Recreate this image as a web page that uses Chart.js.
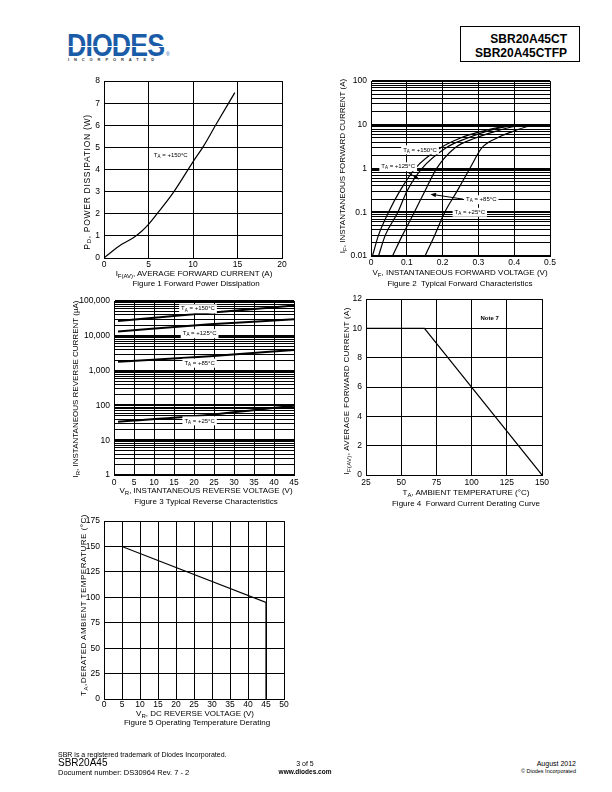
<!DOCTYPE html>
<html>
<head>
<meta charset="utf-8">
<title>SBR20A45CT - typical characteristics</title>
<script src="https://cdn.jsdelivr.net/npm/chart.js@4.4.1/dist/chart.umd.min.js"></script>
<style>
  html, body { margin: 0; padding: 0; background: #fff; }
  body { position: relative; width: 612px; height: 792px; overflow: hidden;
         font-family: "Liberation Sans", Arial, Helvetica, sans-serif; color: #000; }
  canvas { position: absolute; }
  .lbl { position: absolute; white-space: nowrap; font-size: 8px; line-height: 1;
         transform: translate(-50%, -50%); }
  .lbl.rot { transform: translate(-50%, -50%) rotate(-90deg); }
  .lbl sub { font-size: 6px; vertical-align: -1.5px; line-height: 0; }
  #logo { position: absolute; left: 67px; top: 30px; font-size: 31px; line-height: 31px;
          font-weight: 900; color: #1b5ca8; letter-spacing: -1px;
          transform: scaleX(0.86); transform-origin: left top; }
  #logoStripe { position: absolute; left: 66px; top: 46px; width: 102px; height: 1px; background: #fff; }
  #logoReg { position: absolute; left: 166px; top: 51px; font-size: 5px; color: #1b5ca8; }
  #logoSub { position: absolute; left: 68px; top: 57px; font-size: 4px; font-weight: bold;
             letter-spacing: 4.9px; color: #333; }
  #partBox { position: absolute; left: 460px; top: 26px; width: 120px; height: 36px;
             border: 1px solid #000; box-sizing: border-box; }
  .part { position: absolute; right: 12px; font-size: 12px; font-weight: bold; line-height: 12px; }
  .foot { position: absolute; white-space: nowrap; line-height: 1; }
</style>
</head>
<body>

<div id="logo">DIODES</div>
<div id="logoStripe"></div>
<div id="logoReg">®</div>
<div id="logoSub">INCORPORATED</div>
<div id="partBox">
  <div class="part" style="top:6px">SBR20A45CT</div>
  <div class="part" style="top:20px">SBR20A45CTFP</div>
</div>

<canvas id="fig1"></canvas>
<canvas id="fig2"></canvas>
<canvas id="fig3"></canvas>
<canvas id="fig4"></canvas>
<canvas id="fig5"></canvas>

<!-- figure 1 texts -->
<div class="lbl rot" style="left:87px;top:182px;font-size:8.5px;letter-spacing:0.7px">P<sub>D</sub>, POWER DISSIPATION (W)</div>
<div class="lbl" style="left:194px;top:273.5px">I<sub>F(AV)</sub>, AVERAGE FORWARD CURRENT (A)</div>
<div class="lbl" style="left:196px;top:284px">Figure 1 Forward Power Dissipation</div>

<!-- figure 2 texts -->
<div class="lbl rot" style="left:343px;top:166px">I<sub>F</sub>, INSTANTANEOUS FORWARD CURRENT (A)</div>
<div class="lbl" style="left:460px;top:273px">V<sub>F</sub>, INSTANTANEOUS FORWARD VOLTAGE (V)</div>
<div class="lbl" style="left:460px;top:283.5px">Figure 2&nbsp; Typical Forward Characteristics</div>

<!-- figure 3 texts -->
<div class="lbl rot" style="left:76px;top:389px">I<sub>R</sub>, INSTANTANEOUS REVERSE CURRENT (µA)</div>
<div class="lbl" style="left:206px;top:491px">V<sub>R</sub>, INSTANTANEOUS REVERSE VOLTAGE (V)</div>
<div class="lbl" style="left:206px;top:502px">Figure 3 Typical Reverse Characteristics</div>

<!-- figure 4 texts -->
<div class="lbl rot" style="left:346.5px;top:391px;letter-spacing:0.3px">I<sub>F(AV)</sub>, AVERAGE FORWARD CURRENT (A)</div>
<div class="lbl" style="left:466px;top:493px">T<sub>A</sub>, AMBIENT TEMPERATURE (°C)</div>
<div class="lbl" style="left:466px;top:503.5px">Figure 4&nbsp; Forward Current Derating Curve</div>

<!-- figure 5 texts -->
<div class="lbl rot" style="left:83.5px;top:605px;letter-spacing:0.5px">T<sub>A</sub>,DERATED AMBIENT TEMPERATURE (°C)</div>
<div class="lbl" style="left:195px;top:713.5px">V<sub>R</sub>, DC REVERSE VOLTAGE (V)</div>
<div class="lbl" style="left:197px;top:723px">Figure 5 Operating Temperature Derating</div>

<!-- footer -->
<div class="foot" style="left:58px;top:751px;font-size:7px">SBR is a registered trademark of Diodes Incorporated.</div>
<div class="foot" style="left:58px;top:758px;font-size:10px">SBR20A45</div>
<div class="foot" style="left:58px;top:768.5px;font-size:7.5px">Document number: DS30964 Rev. 7 - 2</div>
<div class="foot" style="left:305px;top:759.5px;font-size:7px;transform:translateX(-50%)">3 of 5</div>
<div class="foot" style="left:305px;top:768.5px;font-size:6.5px;font-weight:bold;transform:translateX(-50%)">www.diodes.com</div>
<div class="foot" style="right:36px;top:759.5px;font-size:7px">August 2012</div>
<div class="foot" style="right:36px;top:769px;font-size:5.5px">© Diodes Incorporated</div>

<script>
// Figure 1 - forward power dissipation, TA = +150°C
const fig1Current = [0, 1, 2, 3.3, 4.2, 5, 6.1, 7.8, 10, 11.2, 12.6, 14.7];
const fig1Power   = [0, 0.33, 0.62, 0.92, 1.2, 1.52, 2.07, 2.97, 4.35, 5.07, 6.05, 7.48];
const fig1XTicks  = [0, 5, 10, 15, 20];
const fig1YTicks  = [0, 1, 2, 3, 4, 5, 6, 7, 8];

// Figure 2 - typical forward characteristics (current levels, voltage per curve)
const fig2Current = [0.01, 0.03, 0.1, 0.3, 1, 3, 5, 7, 10];
const fig2V150    = [0.004, 0.021, 0.049, 0.08, 0.123, 0.195, 0.25, 0.305, 0.39];
const fig2V125    = [0.021, 0.04, 0.075, 0.10, 0.142, 0.21, 0.27, 0.32, 0.40];
const fig2V85     = [0.06, 0.088, 0.121, 0.15, 0.183, 0.235, 0.292, 0.345, 0.417];
const fig2V25     = [0.151, 0.178, 0.206, 0.24, 0.276, 0.31, 0.352, 0.395, 0.45];
const fig2XTicks  = [0, 0.1, 0.2, 0.3, 0.4, 0.5];
const fig2YLabels = ['0.01', '0.1', '1', '10', '100'];

// Figure 3 - typical reverse characteristics (µA)
const fig3Voltage = [1, 24, 45];
const fig3I150    = [26800, 46000, 75000];
const fig3I125    = [13300, 21500, 30000];
const fig3I85     = [1800, 2600, 3950];
const fig3I25     = [34, 54, 98];
const fig3XTicks  = [0, 5, 10, 15, 20, 25, 30, 35, 40, 45];
const fig3YLabels = ['1', '10', '100', '1,000', '10,000', '100,000'];

// Figure 4 - forward current derating curve
const fig4Temp    = [25, 66.5, 150];
const fig4Current = [10, 10, 0];
const fig4XTicks  = [25, 50, 75, 100, 125, 150];
const fig4YTicks  = [0, 2, 4, 6, 8, 10, 12];

// Figure 5 - operating temperature derating
const fig5Voltage = [0, 5, 45, 45];
const fig5Temp    = [150, 150, 95, 0];
const fig5XTicks  = [0, 5, 10, 15, 20, 25, 30, 35, 40, 45, 50];
const fig5YTicks  = [0, 25, 50, 75, 100, 125, 150, 175];

const FONT = '"Liberation Sans", Arial, Helvetica, sans-serif';
const AXIS_W = 44, AXIS_H = 14, PAD_T = 8, PAD_R = 14;

// draws the "TA = ..." tags, the Note 7 text and the little arrows
const tagPlugin = {
    id: 'tags',
    afterDatasetsDraw(chart, args, opts) {
        const ctx = chart.ctx, xs = chart.scales.x, ys = chart.scales.y;
        ctx.save();
        ctx.fillStyle = '#000';
        ctx.strokeStyle = '#000';
        (opts.arrows || []).forEach(a => {
            const x1 = xs.getPixelForValue(a.from[0]), y1 = ys.getPixelForValue(a.from[1]);
            const x2 = xs.getPixelForValue(a.to[0]), y2 = ys.getPixelForValue(a.to[1]);
            const ang = Math.atan2(y2 - y1, x2 - x1);
            ctx.lineWidth = 1;
            ctx.beginPath();
            ctx.moveTo(x1, y1);
            ctx.lineTo(x2 - 4 * Math.cos(ang), y2 - 4 * Math.sin(ang));
            ctx.stroke();
            ctx.beginPath();
            ctx.moveTo(x2, y2);
            ctx.lineTo(x2 - 6 * Math.cos(ang - 0.4), y2 - 6 * Math.sin(ang - 0.4));
            ctx.lineTo(x2 - 6 * Math.cos(ang + 0.4), y2 - 6 * Math.sin(ang + 0.4));
            ctx.closePath();
            ctx.fill();
        });
        (opts.items || []).forEach(t => {
            const cx = xs.getPixelForValue(t.x), cy = ys.getPixelForValue(t.y);
            const parts = t.note
                ? [[t.note, 6, 0, true]]
                : [['T', 6, 0], ['A', 4.5, 1.5], [' = ' + t.temp, 6, 0]];
            let w = 0;
            parts.forEach(p => {
                ctx.font = (p[3] ? 'bold ' : '') + p[1] + 'px ' + FONT;
                p.w = ctx.measureText(p[0]).width;
                w += p.w;
            });
            let x = cx - w / 2;
            if (t.bg) {
                ctx.fillStyle = '#fff';
                ctx.fillRect(x - 2, cy - 4.5, w + 4, 9);
                ctx.fillStyle = '#000';
            }
            ctx.textBaseline = 'middle';
            parts.forEach(p => {
                ctx.font = (p[3] ? 'bold ' : '') + p[1] + 'px ' + FONT;
                ctx.fillText(p[0], x, cy + p[2]);
                x += p.w;
            });
        });
        ctx.restore();
    }
};

function fitX(s) { s.height = AXIS_H; }
function fitY(s) { s.width = AXIS_W; }

function isDecade(v) {
    const l = Math.log10(v);
    return Math.abs(l - Math.round(l)) < 1e-9;
}

function linAxis(min, max, ticks, fit, pad) {
    return {
        type: 'linear', min: min, max: max,
        afterBuildTicks: s => { s.ticks = ticks.map(v => ({ value: v })); },
        afterFit: fit,
        grid: { color: '#000', lineWidth: 1, drawTicks: false },
        border: { color: '#000', width: 1 },
        ticks: {
            color: '#000', padding: pad, autoSkip: false, maxRotation: 0,
            font: { family: FONT, size: 8.5 },
            callback: v => String(v)
        }
    };
}

function logAxis(min, max, labels, fit) {
    const all = [];
    for (let e = Math.round(Math.log10(min)); e < Math.round(Math.log10(max)); e++) {
        for (let d = 1; d < 10; d++) all.push(+(d * Math.pow(10, e)).toPrecision(3));
    }
    all.push(max);
    return {
        type: 'logarithmic', min: min, max: max,
        afterBuildTicks: s => { s.ticks = all.map(v => ({ value: v })); },
        afterFit: fit,
        grid: {
            color: '#000', drawTicks: false,
            lineWidth: c => (c.tick && isDecade(c.tick.value)) ? 2 : 1
        },
        border: { color: '#000', width: 1 },
        ticks: {
            color: '#000', padding: 4, autoSkip: false,
            font: { family: FONT, size: 8.5 },
            callback: v => isDecade(v) ? labels[Math.round(Math.log10(v / min))] : ''
        }
    };
}

function curve(xs, ys, width, smooth) {
    return {
        data: xs.map((x, i) => ({ x: x, y: ys[i] })),
        borderColor: '#000',
        borderWidth: width,
        pointRadius: 0,
        fill: false,
        tension: 0,
        cubicInterpolationMode: smooth ? 'monotone' : 'default'
    };
}

function makeChart(id, box, datasets, xScale, yScale, tags) {
    const cv = document.getElementById(id);
    const w = AXIS_W + box.r - box.l + PAD_R;
    const h = PAD_T + box.b - box.t + AXIS_H;
    cv.width = w; cv.height = h;
    cv.style.width = w + 'px'; cv.style.height = h + 'px';
    cv.style.left = (box.l - AXIS_W) + 'px';
    cv.style.top = (box.t - PAD_T) + 'px';
    return new Chart(cv, {
        type: 'line',
        data: { datasets: datasets },
        options: {
            responsive: false,
            animation: false,
            devicePixelRatio: 1,
            layout: { padding: { top: PAD_T, right: PAD_R, left: 0, bottom: 0 } },
            plugins: {
                legend: { display: false },
                tooltip: { enabled: false },
                tags: tags || {}
            },
            scales: { x: xScale, y: yScale }
        },
        plugins: [tagPlugin]
    });
}

// Figure 1
makeChart('fig1', { l: 104, t: 80, r: 282, b: 258 },
    [curve(fig1Current, fig1Power, 1.2, true)],
    linAxis(0, 20, fig1XTicks, fitX, 1.5),
    linAxis(0, 8, fig1YTicks, fitY, 4),
    { items: [{ x: 7.5, y: 4.63, temp: '+150°C' }] });

// Figure 2
makeChart('fig2', { l: 371, t: 80, r: 550, b: 256 },
    [
        curve(fig2V150, fig2Current, 1.2, true),
        curve(fig2V125, fig2Current, 1.2, true),
        curve(fig2V85, fig2Current, 1.2, true),
        curve(fig2V25, fig2Current, 1.2, true)
    ],
    linAxis(0, 0.5, fig2XTicks, fitX, 2),
    logAxis(0.01, 100, fig2YLabels, fitY),
    {
        items: [
            { x: 0.137, y: 2.67, temp: '+150°C', bg: true },
            { x: 0.076, y: 1.1, temp: '+125°C', bg: true },
            { x: 0.308, y: 0.194, temp: '+85°C', bg: true },
            { x: 0.276, y: 0.1, temp: '+25°C', bg: true }
        ],
        arrows: [
            { from: [0.104, 0.81], to: [0.135, 0.56] },
            { from: [0.257, 0.2], to: [0.166, 0.26] }
        ]
    });

// Figure 3
makeChart('fig3', { l: 114, t: 300, r: 294, b: 475 },
    [
        curve(fig3Voltage, fig3I150, 2, true),
        curve(fig3Voltage, fig3I125, 2, true),
        curve(fig3Voltage, fig3I85, 2, true),
        curve(fig3Voltage, fig3I25, 2, true)
    ],
    linAxis(0, 45, fig3XTicks, fitX, 2.5),
    logAxis(1, 100000, fig3YLabels, fitY),
    {
        items: [
            { x: 21, y: 60000, temp: '+150°C', bg: true },
            { x: 21.4, y: 11600, temp: '+125°C', bg: true },
            { x: 21.4, y: 1640, temp: '+85°C', bg: true },
            { x: 21.4, y: 36, temp: '+25°C', bg: true }
        ]
    });

// Figure 4
makeChart('fig4', { l: 366, t: 298, r: 542, b: 475 },
    [curve(fig4Temp, fig4Current, 1.2, false)],
    linAxis(25, 150, fig4XTicks, fitX, 3),
    linAxis(0, 12, fig4YTicks, fitY, 4),
    { items: [{ x: 112.8, y: 10.7, note: 'Note 7' }] });

// Figure 5
makeChart('fig5', { l: 104, t: 520, r: 284, b: 699 },
    [curve(fig5Voltage, fig5Temp, 1.2, false)],
    linAxis(0, 50, fig5XTicks, fitX, 1),
    linAxis(0, 175, fig5YTicks, fitY, 4));
</script>
</body>
</html>
